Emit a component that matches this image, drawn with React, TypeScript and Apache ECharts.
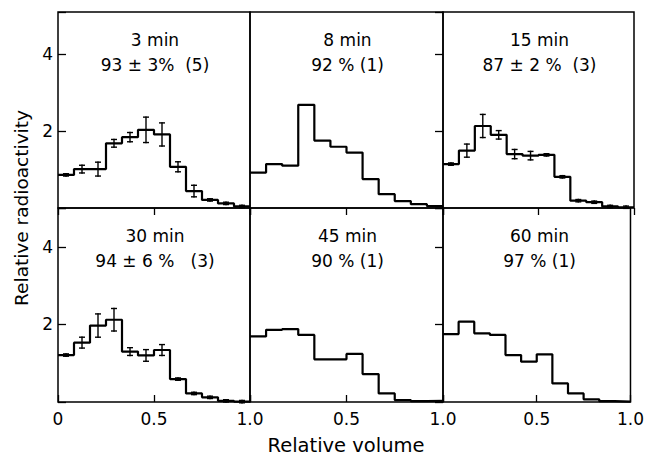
import React, { useEffect, useRef } from "react";
import * as echarts from "echarts";

// ---- data ----
const BIN_COUNT = 12;
const panelTitles = ["3 min", "8 min", "15 min", "30 min", "45 min", "60 min"];
const panelSubtitles = ["93 ± 3%  (5)", "92 % (1)", "87 ± 2 %  (3)", "94 ± 6 %   (3)", "90 % (1)", "97 % (1)"];

const values3 = [0.86, 1.01, 1.01, 1.68, 1.84, 2.03, 1.91, 1.07, 0.44, 0.21, 0.12, 0.04];
const errors3 = [0.03, 0.1, 0.18, 0.1, 0.12, 0.33, 0.3, 0.13, 0.15, 0.03, 0.03, 0.03];
const values8 = [0.92, 1.14, 1.1, 2.68, 1.75, 1.59, 1.44, 0.75, 0.36, 0.18, 0.1, 0.05];
const values15 = [1.14, 1.49, 2.13, 1.9, 1.4, 1.36, 1.38, 0.81, 0.19, 0.15, 0.04, 0.02];
const errors15 = [0.03, 0.17, 0.3, 0.11, 0.12, 0.11, 0.03, 0.03, 0.03, 0.03, 0.03, 0.03];
const values30 = [1.21, 1.53, 1.97, 2.12, 1.3, 1.2, 1.34, 0.59, 0.22, 0.12, 0.03, 0.01];
const errors30 = [0.03, 0.14, 0.3, 0.29, 0.1, 0.15, 0.14, 0.03, 0.03, 0.03, 0.03, 0.03];
const values45 = [1.69, 1.86, 1.88, 1.73, 1.1, 1.1, 1.24, 0.72, 0.22, 0.05, 0.02, 0.03];
const values60 = [1.75, 2.07, 1.77, 1.73, 1.21, 1.04, 1.23, 0.48, 0.22, 0.07, 0.02, 0.01];

const panelValues = [values3, values8, values15, values30, values45, values60];
const panelErrors: (number[] | null)[] = [errors3, null, errors15, errors30, null, null];

const xTickLabels = ["0", "0.5", "1.0"];
const yTickLabels = [2, 4];
const xTitle = "Relative volume";
const yTitle = "Relative radioactivity";

// ---- layout ----
const COLS = [
  { left: 58, width: 192 },
  { left: 250, width: 193 },
  { left: 443, width: 191 },
];
const ROWS = [
  { top: 12, height: 196, max: 5.09 },
  { top: 208, height: 194, max: 5.0 },
];
const FONT = '"DejaVu Sans", sans-serif';

export default function App() {
  const ref = useRef<HTMLDivElement>(null);

  useEffect(() => {
    if (!ref.current) return;
    const chart = echarts.init(ref.current, undefined, { renderer: "svg" });

    const grids: any[] = [];
    const xAxes: any[] = [];
    const yAxes: any[] = [];
    const series: any[] = [];
    const graphics: any[] = [];

    for (let p = 0; p < 6; p++) {
      const r = Math.floor(p / 3);
      const c = p % 3;
      const col = COLS[c];
      const row = ROWS[r];
      grids.push({
        left: col.left,
        top: row.top,
        width: col.width,
        height: row.height,
        show: true,
        borderColor: "#000",
        borderWidth: 1.5,
        backgroundColor: "transparent",
      });
      xAxes.push({
        gridIndex: p,
        type: "value",
        min: 0,
        max: 1,
        interval: 0.5,
        position: r === 0 ? "top" : "bottom",
        axisLine: { show: false },
        splitLine: { show: false },
        axisTick: { show: true, inside: true, length: 7, lineStyle: { color: "#000", width: 1.3 } },
        axisLabel: {
          show: r === 1,
          margin: 8,
          color: "#000",
          fontSize: 17,
          fontFamily: FONT,
          formatter: (v: number) => {
            if (v === 0) return c === 0 ? xTickLabels[0] : "";
            if (v === 0.5) return xTickLabels[1];
            if (v === 1) return xTickLabels[2];
            return "";
          },
        },
      });
      yAxes.push({
        gridIndex: p,
        type: "value",
        min: 0,
        max: row.max,
        interval: 2,
        position: c === 2 ? "right" : "left",
        axisLine: { show: false },
        splitLine: { show: false },
        axisTick: {
          show: c !== 1,
          inside: true,
          length: 8,
          lineStyle: { color: "#000", width: 1.3 },
        },
        axisLabel: {
          show: c === 0,
          margin: 5,
          color: "#000",
          fontSize: 17,
          fontFamily: FONT,
          formatter: (v: number) => (yTickLabels.indexOf(v) >= 0 ? String(v) : ""),
        },
      });

      const vals = panelValues[p];
      const stepData = vals.map((v, i) => [i / BIN_COUNT, v]);
      stepData.push([1, vals[vals.length - 1]]);
      series.push({
        type: "line",
        xAxisIndex: p,
        yAxisIndex: p,
        step: "end",
        data: stepData,
        symbol: "none",
        lineStyle: { color: "#000", width: 2.2 },
        silent: true,
      });

      const errs = panelErrors[p];
      if (errs) {
        series.push({
          type: "custom",
          xAxisIndex: p,
          yAxisIndex: p,
          data: vals.map((v, i) => [(i + 0.5) / BIN_COUNT, v, errs[i]]),
          renderItem: (_params: any, api: any) => {
            const x = api.value(0);
            const y = api.value(1);
            const e = api.value(2);
            const top = api.coord([x, y + e]);
            const bot = api.coord([x, y - e]);
            const cap = 3;
            const st = { stroke: "#000", lineWidth: 1.4 };
            return {
              type: "group",
              children: [
                { type: "line", shape: { x1: top[0], y1: top[1] - 0.7, x2: bot[0], y2: bot[1] + 0.7 }, style: st },
                { type: "line", shape: { x1: top[0] - cap, y1: top[1], x2: top[0] + cap, y2: top[1] }, style: st },
                { type: "line", shape: { x1: bot[0] - cap, y1: bot[1], x2: bot[0] + cap, y2: bot[1] }, style: st },
              ],
            };
          },
          silent: true,
        });
      }

      const cx = col.left + col.width / 2 + 1;
      const ty = row.top + 28;
      graphics.push({
        type: "text",
        x: cx,
        y: ty,
        style: { text: panelTitles[p], fill: "#000", fontSize: 17, fontFamily: FONT, align: "center", verticalAlign: "middle" },
      });
      graphics.push({
        type: "text",
        x: cx,
        y: ty + 25,
        style: { text: panelSubtitles[p], fill: "#000", fontSize: 17, fontFamily: FONT, align: "center", verticalAlign: "middle" },
      });
    }

    graphics.push({
      type: "text",
      x: 346,
      y: 445,
      style: { text: xTitle, fill: "#000", fontSize: 19.5, fontFamily: FONT, align: "center", verticalAlign: "middle" },
    });
    graphics.push({
      type: "text",
      x: 21,
      y: 208,
      rotation: Math.PI / 2,
      style: { text: yTitle, fill: "#000", fontSize: 18.5, fontFamily: FONT, align: "center", verticalAlign: "middle" },
    });

    chart.setOption({
      animation: false,
      backgroundColor: "#fff",
      grid: grids,
      xAxis: xAxes,
      yAxis: yAxes,
      series,
      graphic: graphics,
    });

    return () => chart.dispose();
  }, []);

  return <div ref={ref} style={{ position: "fixed", left: 0, top: 0, width: 647, height: 457 }} />;
}
